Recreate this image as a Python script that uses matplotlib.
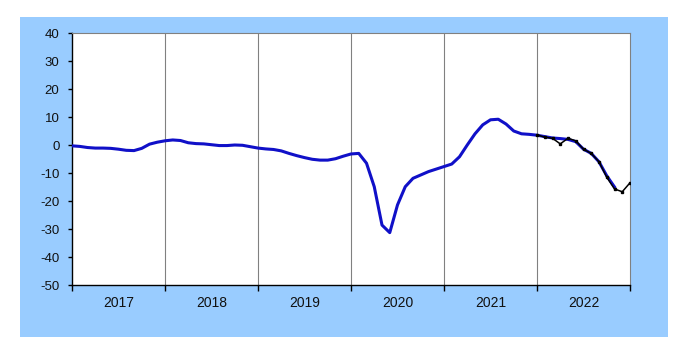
import numpy as np
import matplotlib.pyplot as plt

plt.rcParams['font.family'] = ['Liberation Sans', 'DejaVu Sans']
plt.rcParams['axes.unicode_minus'] = False

# monthly index values, Jan 2017 .. Nov 2022 (smoothed series)
blue_vals = [-0.3, -0.5, -0.9, -1.1, -1.1, -1.2, -1.5, -1.9, -2.0, -1.2, 0.3, 1.0,
             1.5, 1.8, 1.6, 0.8, 0.5, 0.4, 0.1, -0.2, -0.2, 0.0, -0.1, -0.6,
             -1.1, -1.4, -1.6, -2.1, -3.0, -3.8, -4.5, -5.1, -5.4, -5.4, -4.9, -4.0,
             -3.2, -3.0, -6.5, -14.9, -28.6, -31.3, -21.4, -14.9, -11.9, -10.7, -9.5, -8.6,
             -7.7, -6.8, -4.2, 0.0, 4.0, 7.2, 9.0, 9.2, 7.5, 5.0, 4.0, 3.8,
             3.5, 3.0, 2.5, 2.3, 2.0, 1.2, -1.5, -3.0, -6.0, -11.0, -15.0]
# latest monthly readings, Jan 2022 .. Jan 2023
black_vals = [3.6, 2.8, 2.4, 0.4, 2.4, 1.5, -1.5, -3.0, -6.0, -11.5, -15.7, -16.7, -13.5]
years = ['2017', '2018', '2019', '2020', '2021', '2022']

blue_x = 2017 + np.arange(len(blue_vals)) / 12
black_x = 2022 + np.arange(len(black_vals)) / 12

fig = plt.figure(figsize=(6.82, 3.45), dpi=100, facecolor='white')

# light blue chart area behind the plot
bg = fig.add_axes([20/682, 1-337/345, 648/682, 320/345])
bg.set_facecolor('#99CCFF')
bg.set_xticks([])
bg.set_yticks([])
for s in bg.spines.values():
    s.set_visible(False)

ax = fig.add_axes([72/682, 1-285/345, 558/682, 252/345])
ax.set_facecolor('white')

for yr in range(2018, 2023):
    ax.axvline(yr, color='#808080', lw=0.8, zorder=1)

ax.plot(blue_x, blue_vals, color='#1010C8', lw=2.2, zorder=3, solid_joinstyle='round')
ax.plot(black_x, black_vals, color='black', lw=1.1, marker='s', ms=2, zorder=4)

ax.set_xlim(2017, 2023)
ax.set_ylim(-50, 40)
ax.set_yticks(np.arange(-50, 41, 10))
ax.set_xticks(np.arange(2017, 2024))
ax.set_xticklabels([])
ax.set_xticks(np.arange(2017.5, 2023, 1), minor=True)
ax.set_xticklabels(years, minor=True)
ax.tick_params(axis='x', which='minor', length=0, pad=8, labelsize=10, labelcolor='#111111')
ax.tick_params(axis='x', which='major', length=4, width=1, direction='out')
ax.tick_params(axis='y', length=3, width=1, direction='out', labelsize=9.5, pad=6,
               labelcolor='#111111')

for s in ['top', 'right']:
    ax.spines[s].set_color('#808080')
    ax.spines[s].set_linewidth(0.8)
for s in ['left', 'bottom']:
    ax.spines[s].set_color('black')
    ax.spines[s].set_linewidth(1)

fig.savefig('out.png', dpi=100)
